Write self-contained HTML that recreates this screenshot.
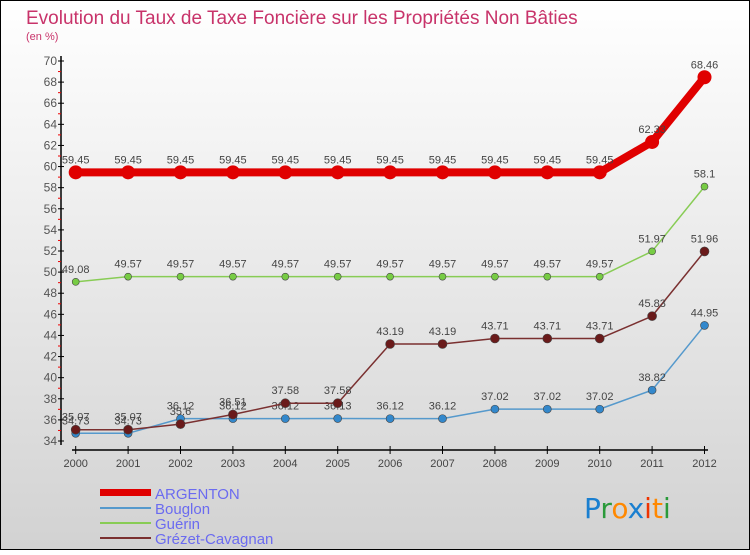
<!DOCTYPE html>
<html><head><meta charset="utf-8"><style>
body{margin:0;}
#c{width:750px;height:550px;}
</style></head><body>
<div id="c">
<svg id="svg" width="750" height="550" xmlns="http://www.w3.org/2000/svg" font-family="Liberation Sans, sans-serif">
<defs><linearGradient id="bg" x1="0" y1="0" x2="0" y2="1"><stop offset="0" stop-color="#ffffff"/><stop offset="1" stop-color="#d2d2d2"/></linearGradient></defs>
<rect x="0.5" y="0.5" width="749" height="549" fill="url(#bg)" stroke="#000"/>
<text x="26" y="24" font-size="19" fill="#c8336a">Evolution du Taux de Taxe Foncière sur les Propriétés Non Bâties</text>
<text x="26" y="40" font-size="11" fill="#c8336a">(en %)</text>
<g id="axes"></g>
<g id="series"></g>
<g id="legend" font-size="15" fill="#6b6bf0">
<rect x="100" y="489" width="51" height="7" fill="#e00000"/>
<text x="155" y="499">ARGENTON</text>
<line x1="100" y1="508" x2="151" y2="508" stroke="#5599cc" stroke-width="2"/>
<text x="155" y="514">Bouglon</text>
<line x1="100" y1="523" x2="151" y2="523" stroke="#88cc55" stroke-width="2"/>
<text x="155" y="529">Guérin</text>
<line x1="100" y1="538" x2="151" y2="538" stroke="#7a3030" stroke-width="2"/>
<text x="155" y="544">Grézet-Cavagnan</text>
</g>
<g font-size="28" font-family="DejaVu Sans, sans-serif">
<text x="584" y="518"><tspan fill="#1a7fd0">P</tspan><tspan fill="#2a9a3a">r</tspan><tspan fill="#ff8800">o</tspan><tspan fill="#1a7fd0">x</tspan><tspan fill="#ee3300">i</tspan><tspan fill="#ff8800">t</tspan><tspan fill="#2a9a3a">i</tspan></text>
</g>
</svg>
</div>
<script>
const years=[2000,2001,2002,2003,2004,2005,2006,2007,2008,2009,2010,2011,2012];
const argenton=[59.45,59.45,59.45,59.45,59.45,59.45,59.45,59.45,59.45,59.45,59.45,62.33,68.46];
const bouglon=[34.73,34.73,36.12,36.12,36.12,36.13,36.12,36.12,37.02,37.02,37.02,38.82,44.95];
const guerin=[49.08,49.57,49.57,49.57,49.57,49.57,49.57,49.57,49.57,49.57,49.57,51.97,58.1];
const grezet=[35.07,35.07,35.6,36.51,37.58,37.58,43.19,43.19,43.71,43.71,43.71,45.83,51.96];
const yTicks=[34,36,38,40,42,44,46,48,50,52,54,56,58,60,62,64,66,68,70];
const NS='http://www.w3.org/2000/svg';
const x=i=>75.7+i*52.4;
const y=v=>441-(v-34)*(380/36);
function mk(tag,attrs,parent){const e=document.createElementNS(NS,tag);for(const k in attrs)e.setAttribute(k,attrs[k]);parent.appendChild(e);return e;}
const axes=document.getElementById('axes');
let e=mk('line',{x1:61,y1:56,x2:61,y2:445,stroke:'#000','stroke-width':1.5},axes);


e=mk('line',{x1:72,y1:450,x2:708,y2:450,stroke:'#000','stroke-width':1.5},axes);


yTicks.forEach(t=>{
  mk('line',{x1:58,y1:y(t),x2:64,y2:y(t),stroke:'#000'},axes);
  if(t<70)mk('line',{x1:58,y1:y(t+1),x2:61,y2:y(t+1),stroke:'#e00'},axes);
  const tx=mk('text',{x:57,y:y(t)+4,'text-anchor':'end','font-size':12,fill:'#555'},axes);
  tx.textContent=t;
  
  
});
years.forEach((yr,i)=>{
  mk('line',{x1:x(i),y1:446,x2:x(i),y2:454,stroke:'#000'},axes);
  const tx=mk('text',{x:x(i),y:467,'text-anchor':'middle','font-size':11,fill:'#444'},axes);
  tx.textContent=yr;
  
  
});
const series=[
 {name:'bouglon',data:bouglon,color:'#5599cc',w:1.5,r:4,dot:'#3388cc'},
 {name:'guerin',data:guerin,color:'#88cc55',w:1.5,r:3.5,dot:'#77cc44'},
 {name:'grezet',data:grezet,color:'#7a3030',w:1.5,r:4.5,dot:'#6a1a1a'},
 {name:'argenton',data:argenton,color:'#e00000',w:8,r:7,dot:'#e00000'}
];
const sg=document.getElementById('series');
series.forEach(s=>{
  const g=mk('g',{},sg);
  
  
  const p=mk('polyline',{points:s.data.map((v,i)=>x(i)+','+y(v)).join(' '),fill:'none',stroke:s.color,'stroke-width':s.w,'stroke-linejoin':'round'},g);
  
  
  s.data.forEach((v,i)=>{
    const c=mk('circle',{cx:x(i),cy:y(v),r:s.r,fill:s.dot,stroke:'#444','stroke-width':s.name==='argenton'?0:0.6},g);
    
    
    const t=mk('text',{x:x(i),y:y(v)-9,'text-anchor':'middle','font-size':11,fill:'#444'},g);
    t.textContent=v;
    
    
  });
});
</script>
</body></html>
